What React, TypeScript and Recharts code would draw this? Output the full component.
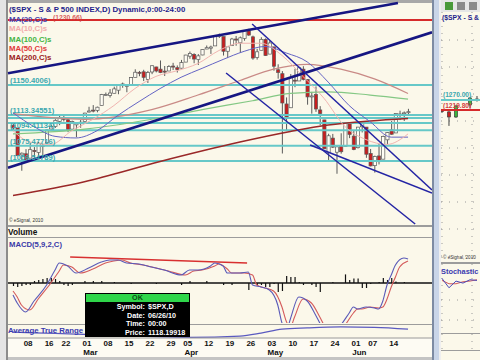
import React from 'react';
import { ComposedChart, Bar, Line, XAxis, YAxis, ReferenceLine } from 'recharts';

// $SPX daily candles, 03 Feb - 18 Jun 2010
const dates = [
  '02/03', '02/04', '02/05', '02/08', '02/09', '02/10', '02/11', '02/12', '02/16', '02/17', '02/18', '02/19', '02/22', '02/23', '02/24', '02/25', '02/26',
  '03/01', '03/02', '03/03', '03/04', '03/05', '03/08', '03/09', '03/10', '03/11', '03/12', '03/15', '03/16', '03/17', '03/18', '03/19', '03/22', '03/23', '03/24', '03/25', '03/26', '03/29', '03/30', '03/31',
  '04/01', '04/05', '04/06', '04/07', '04/08', '04/09', '04/12', '04/13', '04/14', '04/15', '04/16', '04/19', '04/20', '04/21', '04/22', '04/23', '04/26', '04/27', '04/28', '04/29', '04/30',
  '05/03', '05/04', '05/05', '05/06', '05/07', '05/10', '05/11', '05/12', '05/13', '05/14', '05/17', '05/18', '05/19', '05/20', '05/21', '05/24', '05/25', '05/26', '05/27', '05/28',
  '06/01', '06/02', '06/03', '06/04', '06/07', '06/08', '06/09', '06/10', '06/11', '06/14', '06/15', '06/16', '06/17', '06/18',
];
const opens = [
  1100.7, 1097.3, 1064.1, 1065.5, 1060.1, 1069.7, 1067.1, 1076.0, 1079.1, 1096.1, 1099.0, 1105.5, 1110.0, 1107.5, 1095.9, 1101.2, 1103.1,
  1105.4, 1117.0, 1119.4, 1119.1, 1125.1, 1138.4, 1137.6, 1140.2, 1144.0, 1151.7, 1148.5, 1150.8, 1159.9, 1166.1, 1166.7, 1157.3, 1166.5, 1172.7, 1170.0, 1167.6, 1167.7, 1173.8, 1171.8,
  1171.2, 1178.7, 1186.0, 1188.2, 1181.8, 1187.5, 1194.9, 1195.9, 1198.7, 1210.8, 1210.2, 1192.1, 1199.0, 1207.2, 1202.5, 1207.9, 1217.1, 1209.9, 1184.6, 1193.3, 1206.8,
  1188.6, 1197.5, 1169.2, 1164.4, 1127.0, 1122.3, 1156.4, 1155.4, 1170.0, 1157.2, 1136.5, 1138.8, 1119.6, 1107.3, 1067.3, 1084.8, 1067.4, 1075.5, 1074.3, 1102.6,
  1087.3, 1073.0, 1098.8, 1098.4, 1065.8, 1050.8, 1062.8, 1058.8, 1082.7, 1095.0, 1091.2, 1114.0, 1116.0, 1116.2,
];
const highs = [
  1102.7, 1097.3, 1067.1, 1071.2, 1079.3, 1073.7, 1080.0, 1077.8, 1095.7, 1101.0, 1108.2, 1112.4, 1112.3, 1108.6, 1106.4, 1103.5, 1107.2,
  1116.1, 1123.5, 1125.6, 1123.7, 1139.4, 1141.1, 1145.4, 1148.3, 1150.2, 1153.4, 1151.0, 1160.3, 1169.8, 1167.8, 1169.2, 1167.8, 1174.7, 1173.0, 1180.7, 1173.9, 1174.9, 1177.8, 1174.6,
  1181.4, 1187.7, 1191.8, 1189.6, 1188.6, 1194.7, 1199.2, 1199.0, 1210.7, 1213.9, 1210.2, 1197.9, 1208.6, 1211.0, 1210.3, 1217.3, 1219.8, 1211.4, 1195.1, 1209.4, 1208.0,
  1205.1, 1197.5, 1176.0, 1167.6, 1135.1, 1163.9, 1170.5, 1172.9, 1173.6, 1157.2, 1141.9, 1148.7, 1124.3, 1107.3, 1090.2, 1090.0, 1074.8, 1090.8, 1103.5, 1102.6,
  1094.8, 1098.6, 1105.7, 1098.4, 1071.4, 1063.2, 1077.7, 1087.9, 1092.3, 1105.9, 1115.6, 1118.7, 1117.7, 1121.0,
];
const lows = [
  1094.0, 1062.8, 1044.5, 1056.5, 1060.1, 1059.3, 1060.6, 1063.0, 1079.1, 1094.7, 1097.5, 1100.8, 1105.4, 1092.2, 1095.5, 1086.0, 1097.6,
  1105.4, 1116.5, 1116.6, 1116.7, 1125.1, 1136.8, 1134.9, 1140.1, 1139.0, 1147.0, 1141.5, 1150.4, 1159.9, 1161.2, 1155.3, 1152.9, 1163.8, 1166.0, 1165.1, 1161.5, 1167.7, 1168.9, 1165.8,
  1170.7, 1178.7, 1182.8, 1177.3, 1175.1, 1187.2, 1194.7, 1188.8, 1198.7, 1208.5, 1186.8, 1183.7, 1199.0, 1198.9, 1190.2, 1205.1, 1211.1, 1181.6, 1181.8, 1193.3, 1186.3,
  1188.6, 1168.1, 1158.2, 1065.8, 1094.2, 1122.3, 1147.7, 1155.4, 1156.1, 1126.1, 1115.0, 1117.2, 1100.7, 1071.6, 1055.9, 1072.7, 1040.8, 1065.6, 1074.3, 1084.8,
  1069.9, 1072.0, 1091.8, 1060.5, 1049.9, 1042.2, 1052.3, 1058.8, 1077.1, 1089.0, 1091.2, 1107.1, 1105.9, 1113.9,
];
const closes = [
  1097.3, 1063.1, 1066.2, 1056.7, 1070.5, 1068.1, 1078.5, 1075.5, 1094.9, 1099.5, 1106.8, 1109.2, 1108.0, 1094.6, 1105.2, 1102.9, 1104.5,
  1115.7, 1118.3, 1118.8, 1123.0, 1138.7, 1138.5, 1140.5, 1145.6, 1150.2, 1150.0, 1150.5, 1159.5, 1166.2, 1165.8, 1159.9, 1165.8, 1174.2, 1167.7, 1165.7, 1166.6, 1173.2, 1173.3, 1169.4,
  1178.1, 1187.4, 1189.4, 1182.5, 1186.4, 1194.4, 1196.5, 1197.3, 1210.7, 1211.7, 1192.1, 1197.5, 1207.2, 1205.9, 1208.7, 1217.3, 1212.1, 1183.7, 1191.4, 1206.8, 1186.7,
  1202.3, 1173.6, 1165.9, 1128.2, 1110.9, 1159.7, 1155.8, 1171.7, 1157.4, 1135.7, 1136.9, 1120.8, 1115.1, 1071.6, 1087.7, 1073.7, 1074.0, 1068.0, 1103.1, 1089.4,
  1070.7, 1098.4, 1102.8, 1064.9, 1050.5, 1062.0, 1055.7, 1086.8, 1091.6, 1089.6, 1115.2, 1114.6, 1116.0, 1117.5,
];

// moving averages: [bar index, value]
const ma10 = [[0, 1094], [4, 1080], [9, 1077], [14, 1094], [19, 1108], [24, 1125], [29, 1146], [34, 1161], [39, 1168], [44, 1177], [49, 1193], [54, 1202], [59, 1202], [64, 1187], [69, 1161], [74, 1134], [79, 1099], [84, 1083], [89, 1077], [94, 1090]];
const ma20 = [[0, 1116], [5, 1099], [10, 1087], [15, 1085], [20, 1094], [25, 1113], [30, 1130], [35, 1146], [40, 1160], [45, 1171], [50, 1182], [55, 1192], [60, 1198], [65, 1190], [70, 1179], [75, 1154], [80, 1125], [85, 1105], [90, 1086], [94, 1086]];
const ma50 = [[0, 1115], [17, 1108], [33, 1120], [44, 1138], [54, 1156], [62, 1170], [70, 1176], [78, 1170], [86, 1158], [94, 1140]];
const ma100 = [[0, 1090], [17, 1096], [35, 1110], [45, 1120], [57, 1131], [66, 1140], [75, 1142], [85, 1138], [94, 1133]];
const ma200 = [[0, 1014], [17, 1031], [35, 1056], [54, 1080], [66, 1093], [75, 1101], [85, 1106], [94, 1109]];

// horizontal levels
const fibLevels = [1150.4006, 1113.34551, 1109.6, 1103.5, 1094.41134, 1075.47716, 1056.54789];
const fibLabels = ['(1150.4006)', '(1113.34551)', '(1094.41134)', '(1075.47716)', '(1056.54789)'];
const redLevel = 1230.66;

// drawn trend lines: [startIndex, startPrice, endIndex, endPrice]
const thickTrends = [[-1.19, 1165.0, 91.6, 1251.7], [-1.19, 1048.3, 99.7, 1215.5]];
const thinTrends = [[50.7, 1165.2, 95.7, 978.7], [56.9, 1225.7, 99.7, 1020.7], [70.7, 1076.3, 99.7, 1017.0]];

// MACD(5,9,2)
const macdLine = [[0, -6], [1, -10], [3, -14.5], [5, -9], [8, -1], [10, 6.5], [11, 10], [13, 8.5], [15, 5], [18, 7.5], [21, 10.5], [23, 11.5], [25, 11.5], [27, 10], [30, 9.5], [33, 8], [36, 6.5], [40, 4], [42, 6.5], [44, 6.5], [47, 8.5], [48, 10], [50, 8.5], [51, 5], [54, 5], [56, 5.5], [57, -1], [59, -2], [61, -3.5], [63, -11], [64, -20], [65, -24], [66, -18], [68, -7], [70, -9], [72, -16], [73, -20], [75, -26], [78, -21], [80, -15], [81, -12], [82, -13], [84, -12], [86, -12.5], [87, -13], [88, -9], [89, -1], [90, 4], [91, 9], [93, 12.5], [94, 12]];
const macdSignal = [[0, -4], [1, -7], [2, -11], [4, -13.5], [6, -8], [9, 0], [11, 6], [12, 9], [14, 8], [16, 5], [19, 7], [22, 10], [24, 11], [26, 11.5], [28, 10], [31, 9], [34, 7.5], [37, 6], [41, 4], [43, 6], [45, 6.5], [48, 8.5], [49, 9.5], [51, 7], [52, 5], [55, 5], [57, 4], [58, -1], [60, -2.5], [62, -4], [64, -12], [65, -19], [66, -22], [67, -17], [69, -8], [71, -10], [73, -17], [74, -21], [76, -25], [79, -21], [81, -15], [82, -13], [83, -13], [85, -12], [87, -12.5], [88, -12], [89, -8], [90, -2], [91, 3], [92, 8], [94, 11]];
const macdHist = [[0, -1.5], [1, -2], [2, -1.5], [3, -1], [4, -1], [5, 1], [6, 1.5], [7, 2], [8, 2.5], [9, 2.5], [10, 2], [11, 1], [12, -1], [13, -1.5], [14, -1], [17, 1], [19, 1], [21, 1], [24, 0.5], [28, -0.5], [34, -0.5], [40, -1], [42, 1], [46, 1], [50, -1], [52, -1], [56, -3.5], [58, -1], [59, -1], [60, -2], [61, -2], [62, -0.5], [63, -4.5], [64, -4], [65, 3.5], [66, 3], [67, 3], [68, 0.5], [69, -1], [71, -1], [72, -2], [73, -4.5], [76, 0.5], [79, 4.3], [80, 1.5], [81, 2.3], [82, 2.3], [83, -2.5], [84, -2.5], [85, -0.5], [87, 0.5], [88, 2.5], [89, 1.5], [90, 2.5], [91, 0.8], [93, 0.5]];
const macdTrend = [13.6, 13, 55.7, 10];

// Average True Range
const atr = [[0, 17], [10, 15], [20, 13], [30, 11], [42, 9], [54, 11], [59, 15.5], [64, 21.5], [70, 23.5], [78, 25], [86, 24.5], [94, 21.5]];

// date axis
const tickIdx = [3, 8, 12, 17, 22, 27, 32, 37, 41, 46, 51, 56, 61, 66, 71, 76, 81, 85, 90];
const tickDays = ['08', '16', '22', '01', '08', '15', '22', '29', '05', '12', '19', '26', '03', '10', '17', '24', '01', '07', '14'];
const tickMonths = ['', '', '', 'Mar', '', '', '', '', 'Apr', '', '', '', 'May', '', '', '', 'Jun', '', ''];

// second (right hand) window
const rIdx = [0, 1, 2, 4, 5];
const rOpen = [1217, 1210, 1185, 1245, 1275];
const rHigh = [1225, 1220, 1245, 1285, 1290];
const rLow = [1205, 1140, 1180, 1230, 1262];
const rClose = [1214, 1185, 1240, 1280, 1272];
const stochK = [[0, 80], [1, 66], [2, 76], [3, 73], [4, 78], [5, 77]];
const stochD = [[0, 77], [1, 72], [2, 72], [3, 75], [4, 76], [5, 78]];

const FONT = '"Liberation Sans", Arial, sans-serif';
const CREAM = '#fbf8ea';
const X_DOMAIN: [number, number] = [-1.19, 99.7];

const candles = dates.map((d, i) => ({
  i, date: d, open: opens[i], high: highs[i], low: lows[i], close: closes[i], range: [lows[i], highs[i]],
}));
const rCandles = rIdx.map((x, k) => ({
  i: x, open: rOpen[k], high: rHigh[k], low: rLow[k], close: rClose[k], range: [rLow[k], rHigh[k]],
}));
const pts = (arr: number[][]) => arr.map(([i, v]) => ({ i, v }));

const makeCandle = (upFill: string, downFill: string, edge: string) => (p: any) => {
  const d = p.payload;
  if (!d || !p.height) return <g />;
  const top = Math.min(p.y, p.y + p.height);
  const bottom = Math.max(p.y, p.y + p.height);
  const toY = (v: number) => top + ((d.high - v) / (d.high - d.low)) * (bottom - top);
  const cx = p.x + p.width / 2;
  const yo = toY(d.open);
  const yc = toY(d.close);
  const up = d.close >= d.open;
  return (
    <g>
      <line x1={cx} x2={cx} y1={top} y2={bottom} stroke={edge} strokeWidth={1} />
      <rect x={cx - 1.6} y={Math.min(yo, yc)} width={3.2} height={Math.max(1, Math.abs(yo - yc))}
        fill={up ? upFill : downFill} stroke={edge} strokeWidth={0.7} />
    </g>
  );
};
const Candle = makeCandle('#fffdf4', '#c81e1e', '#5a5a5a');
const RCandle = makeCandle('#3cb43c', '#c81e1e', '#404040');

const DateTick = (p: any) => {
  const k = tickIdx.indexOf(p.payload.value);
  if (k < 0) return <g />;
  return (
    <g fontFamily={FONT} fontWeight="bold" fontSize={8} fill="#111">
      <text x={p.x + 2.5} y={21} textAnchor="middle">{tickDays[k]}</text>
      {tickMonths[k] ? <text x={p.x + 6} y={30} textAnchor="middle">{tickMonths[k]}</text> : null}
    </g>
  );
};

const box = (left: number, top: number, width: number, height: number, background: string): React.CSSProperties => ({
  position: 'absolute', left, top, width, height, background,
});

const App = () => {
  const txt = { fontFamily: FONT, fontWeight: 'bold' as const };
  return (
    <div style={{ position: 'absolute', left: 0, top: 0, width: 480, height: 360, background: '#d8d8d8', overflow: 'hidden', fontFamily: FONT }}>
      {/* window frame and panel backgrounds */}
      <div style={box(0, 0, 6, 360, '#e4e4e4')} />
      <div style={box(6, 0, 2, 360, '#8c8c8c')} />
      <div style={box(8, 0, 424, 3, '#a8a8a8')} />
      <div style={box(8, 3, 424, 222, CREAM)} />
      <div style={box(8, 225, 424, 2, '#9c9c9c')} />
      <div style={box(8, 227, 424, 10, CREAM)} />
      <div style={box(8, 237, 424, 1, '#9c9c9c')} />
      <div style={box(8, 238, 424, 86, CREAM)} />
      <div style={box(8, 324, 424, 1, '#9c9c9c')} />
      <div style={box(8, 325, 424, 13, CREAM)} />
      <div style={box(8, 338, 424, 19, '#fdfbf3')} />
      <div style={box(8, 357, 424, 3, '#c4c4c4')} />
      <div style={box(432, 0, 2, 360, '#7d8ba3')} />
      <div style={box(434, 0, 5, 360, '#c9d5e8')} />
      <div style={box(439, 0, 2, 360, '#efefef')} />

      {/* price panel */}
      <div style={{ position: 'absolute', left: 0, top: 0 }}>
        <ComposedChart width={432} height={226} data={candles} margin={{ top: 3, right: 0, bottom: 1, left: 8 }}>
          <XAxis type="number" dataKey="i" domain={X_DOMAIN} hide allowDataOverflow />
          <YAxis type="number" domain={[977.5, 1251.7]} hide allowDataOverflow width={0} />
          {fibLevels.map((v) => (
            <ReferenceLine key={v} y={v} stroke="#66c8c8" strokeWidth={2} />
          ))}
          <ReferenceLine y={redLevel} stroke="#d62a2a" strokeWidth={2} />
          <Line data={pts(ma200)} dataKey="v" type="monotone" stroke="#9a2828" strokeWidth={1.6} dot={false} activeDot={false} isAnimationActive={false} />
          <Line data={pts(ma100)} dataKey="v" type="monotone" stroke="#84c884" strokeWidth={1.2} dot={false} activeDot={false} isAnimationActive={false} />
          <Line data={pts(ma50)} dataKey="v" type="monotone" stroke="#c98a86" strokeWidth={1.2} dot={false} activeDot={false} isAnimationActive={false} />
          <Line data={pts(ma20)} dataKey="v" type="monotone" stroke="#6464c4" strokeWidth={1} dot={false} activeDot={false} isAnimationActive={false} />
          <Line data={pts(ma10)} dataKey="v" type="monotone" stroke="#f0b4b0" strokeWidth={1} dot={false} activeDot={false} isAnimationActive={false} />
          <Bar dataKey="range" barSize={3} shape={Candle} isAnimationActive={false} />
          {thickTrends.map((t, k) => (
            <ReferenceLine key={'T' + k} segment={[{ x: t[0], y: t[1] }, { x: t[2], y: t[3] }]} stroke="#161682" strokeWidth={2.6} ifOverflow="visible" />
          ))}
          {thinTrends.map((t, k) => (
            <ReferenceLine key={'t' + k} segment={[{ x: t[0], y: t[1] }, { x: t[2], y: t[3] }]} stroke="#2424a4" strokeWidth={1.5} ifOverflow="visible" />
          ))}
        </ComposedChart>
      </div>

      {/* MACD panel */}
      <div style={{ position: 'absolute', left: 0, top: 237 }}>
        <ComposedChart width={432} height={86} data={pts(macdHist)} margin={{ top: 0, right: 0, bottom: 0, left: 8 }}>
          <XAxis type="number" dataKey="i" domain={X_DOMAIN} hide allowDataOverflow />
          <YAxis type="number" domain={[-20, 23]} hide allowDataOverflow width={0} />
          <ReferenceLine y={0} stroke="#111" strokeWidth={1.6} />
          <Bar dataKey="v" barSize={1.2} fill="#111" isAnimationActive={false} />
          <ReferenceLine segment={[{ x: macdTrend[0], y: macdTrend[1] }, { x: macdTrend[2], y: macdTrend[3] }]} stroke="#d83030" strokeWidth={1.6} ifOverflow="visible" />
          <Line data={pts(macdSignal)} dataKey="v" type="monotone" stroke="#d45a5a" strokeWidth={1.1} dot={false} activeDot={false} isAnimationActive={false} />
          <Line data={pts(macdLine)} dataKey="v" type="monotone" stroke="#5a5ab8" strokeWidth={1.1} dot={false} activeDot={false} isAnimationActive={false} />
        </ComposedChart>
      </div>

      {/* ATR panel and date axis */}
      <div style={{ position: 'absolute', left: 0, top: 325 }}>
        <ComposedChart width={432} height={35} data={pts(atr)} margin={{ top: 0, right: 0, bottom: 0, left: 8 }}>
          <XAxis type="number" dataKey="i" domain={X_DOMAIN} allowDataOverflow ticks={tickIdx} interval={0} height={22}
            tick={DateTick} tickLine={false} axisLine={{ stroke: '#9a9a9a' }} />
          <YAxis type="number" domain={[8, 28]} hide allowDataOverflow width={0} />
          <Line dataKey="v" type="monotone" stroke="#5a5ac0" strokeWidth={1.3} dot={false} activeDot={false} isAnimationActive={false} />
        </ComposedChart>
      </div>

      {/* panel texts */}
      <svg width={432} height={360} style={{ position: 'absolute', left: 0, top: 0 }}>
        <text x={9} y={12} fontSize={7.8} fill="#1e1e8c" {...txt}>($SPX - S &amp; P 500 INDEX,D) Dynamic,0:00-24:00</text>
        <text x={9} y={21.5} fontSize={7.8} fill="#4646b4" {...txt}>MA(20,C)s</text>
        <text x={53} y={19.5} fontSize={6.8} fill="#d44040" {...txt} opacity={0.8}>(1230.66)</text>
        <text x={9} y={31} fontSize={7.8} fill="#f2aaaa" {...txt}>MA(10,C)s</text>
        <text x={9} y={41.5} fontSize={7.8} fill="#44b444" {...txt}>MA(100,C)s</text>
        <text x={9} y={51} fontSize={7.8} fill="#e03a3a" {...txt}>MA(50,C)s</text>
        <text x={9} y={60} fontSize={7.8} fill="#9a2020" {...txt}>MA(200,C)s</text>
        {fibLabels.map((s, k) => (
          <text key={s} x={10} y={[82.5, 112.5, 127.5, 144, 160][k]} fontSize={7.6} fill="#3aa8b0" {...txt}>{s}</text>
        ))}
        <text x={9} y={222} fontSize={4.8} fill="#333" fontFamily={FONT}>© eSignal, 2010</text>
        <text x={8} y={235} fontSize={8.3} fill="#111" {...txt}>Volume</text>
        <text x={9} y={247} fontSize={7.7} fill="#3a3aa8" {...txt}>MACD(5,9,2,C)</text>
        <text x={8} y={333} fontSize={7.8} fill="#3a3ab0" {...txt}>Average True Range</text>
      </svg>

      {/* cursor popup */}
      <div style={{ position: 'absolute', left: 85, top: 293, width: 105, height: 44, background: '#000', color: '#fff', fontSize: 7.2, fontWeight: 'bold', lineHeight: '8.6px' }}>
        <div style={{ margin: 1, height: 8, background: '#2fd64a', color: '#0a4a14', textAlign: 'center', lineHeight: '8px' }}>OK</div>
        {[['Symbol:', '$SPX,D'], ['Date:', '06/26/10'], ['Time:', '00:00'], ['Price:', '1118.19918']].map(([a, b]) => (
          <div key={a} style={{ display: 'flex' }}>
            <span style={{ width: 60, textAlign: 'right' }}>{a}</span>
            <span style={{ paddingLeft: 3 }}>{b}</span>
          </div>
        ))}
      </div>

      {/* right hand window */}
      <div style={{ position: 'absolute', left: 441, top: 0, width: 39, height: 360, overflow: 'hidden', background: CREAM }}>
        <div style={box(0, 0, 39, 12, '#e6e6e6')} />
        <div style={box(4, 2, 8, 8, '#4a9a3a')} />
        <div style={box(16, 2, 8, 8, '#8a8a8a')} />
        <div style={box(28, 2, 8, 8, '#8a8a8a')} />
        <div style={box(0, 262, 39, 2, '#9c9c9c')} />
        <div style={box(0, 333, 39, 1, '#9c9c9c')} />
        <div style={box(0, 350, 39, 1, '#9c9c9c')} />
        <svg width={39} height={360} style={{ position: 'absolute', left: 0, top: 0 }}>
          {[40, 67, 94, 121, 148, 175, 202, 229, 256, 300, 320].map((y) => (
            <line key={y} x1={0} x2={39} y1={y} y2={y} stroke="#9a9a9a" strokeWidth={1} strokeDasharray="1 7" />
          ))}
          {[1, 31].map((x) => (
            <line key={x} x1={x} x2={x} y1={12} y2={350} stroke="#9a9a9a" strokeWidth={1} strokeDasharray="1 6" />
          ))}
        </svg>
        <div style={{ position: 'absolute', left: 0, top: 12 }}>
          <ComposedChart width={39} height={250} data={rCandles} margin={{ top: 0, right: 0, bottom: 0, left: 0 }}>
            <XAxis type="number" dataKey="i" domain={[-0.14, 5.43]} hide allowDataOverflow />
            <YAxis type="number" domain={[456.8, 1711.8]} hide allowDataOverflow width={0} />
            <ReferenceLine y={1270} stroke="#66c8c8" strokeWidth={2} />
            <ReferenceLine y={1219.8} stroke="#d62a2a" strokeWidth={2} />
            <Bar dataKey="range" barSize={3} shape={RCandle} isAnimationActive={false} />
          </ComposedChart>
        </div>
        <div style={{ position: 'absolute', left: 0, top: 265 }}>
          <ComposedChart width={39} height={67} data={pts(stochK)} margin={{ top: 0, right: 0, bottom: 0, left: 0 }}>
            <XAxis type="number" dataKey="i" domain={[-0.14, 5.43]} hide allowDataOverflow />
            <YAxis type="number" domain={[0, 100]} hide allowDataOverflow width={0} />
            <Line data={pts(stochD)} dataKey="v" stroke="#d45a5a" strokeWidth={1} dot={false} activeDot={false} isAnimationActive={false} />
            <Line dataKey="v" stroke="#4a4ab8" strokeWidth={1} dot={false} activeDot={false} isAnimationActive={false} />
          </ComposedChart>
        </div>
        <svg width={39} height={360} style={{ position: 'absolute', left: 0, top: 0 }}>
          <text x={1} y={20} fontSize={6.8} fill="#1e1e8c" {...txt}>($SPX - S &amp;</text>
          <text x={2} y={97} fontSize={6.6} fill="#3aa8b0" {...txt}>(1270.00)</text>
          <text x={2} y={108} fontSize={6.6} fill="#d44040" {...txt}>(1219.80)</text>
          <text x={2} y={259} fontSize={4.6} fill="#333" fontFamily={FONT}>© eSignal, 2010</text>
          <text x={0} y={274} fontSize={7.4} fill="#3a3ab0" {...txt}>Stochastic</text>
        </svg>
      </div>
    </div>
  );
};

export default App;
